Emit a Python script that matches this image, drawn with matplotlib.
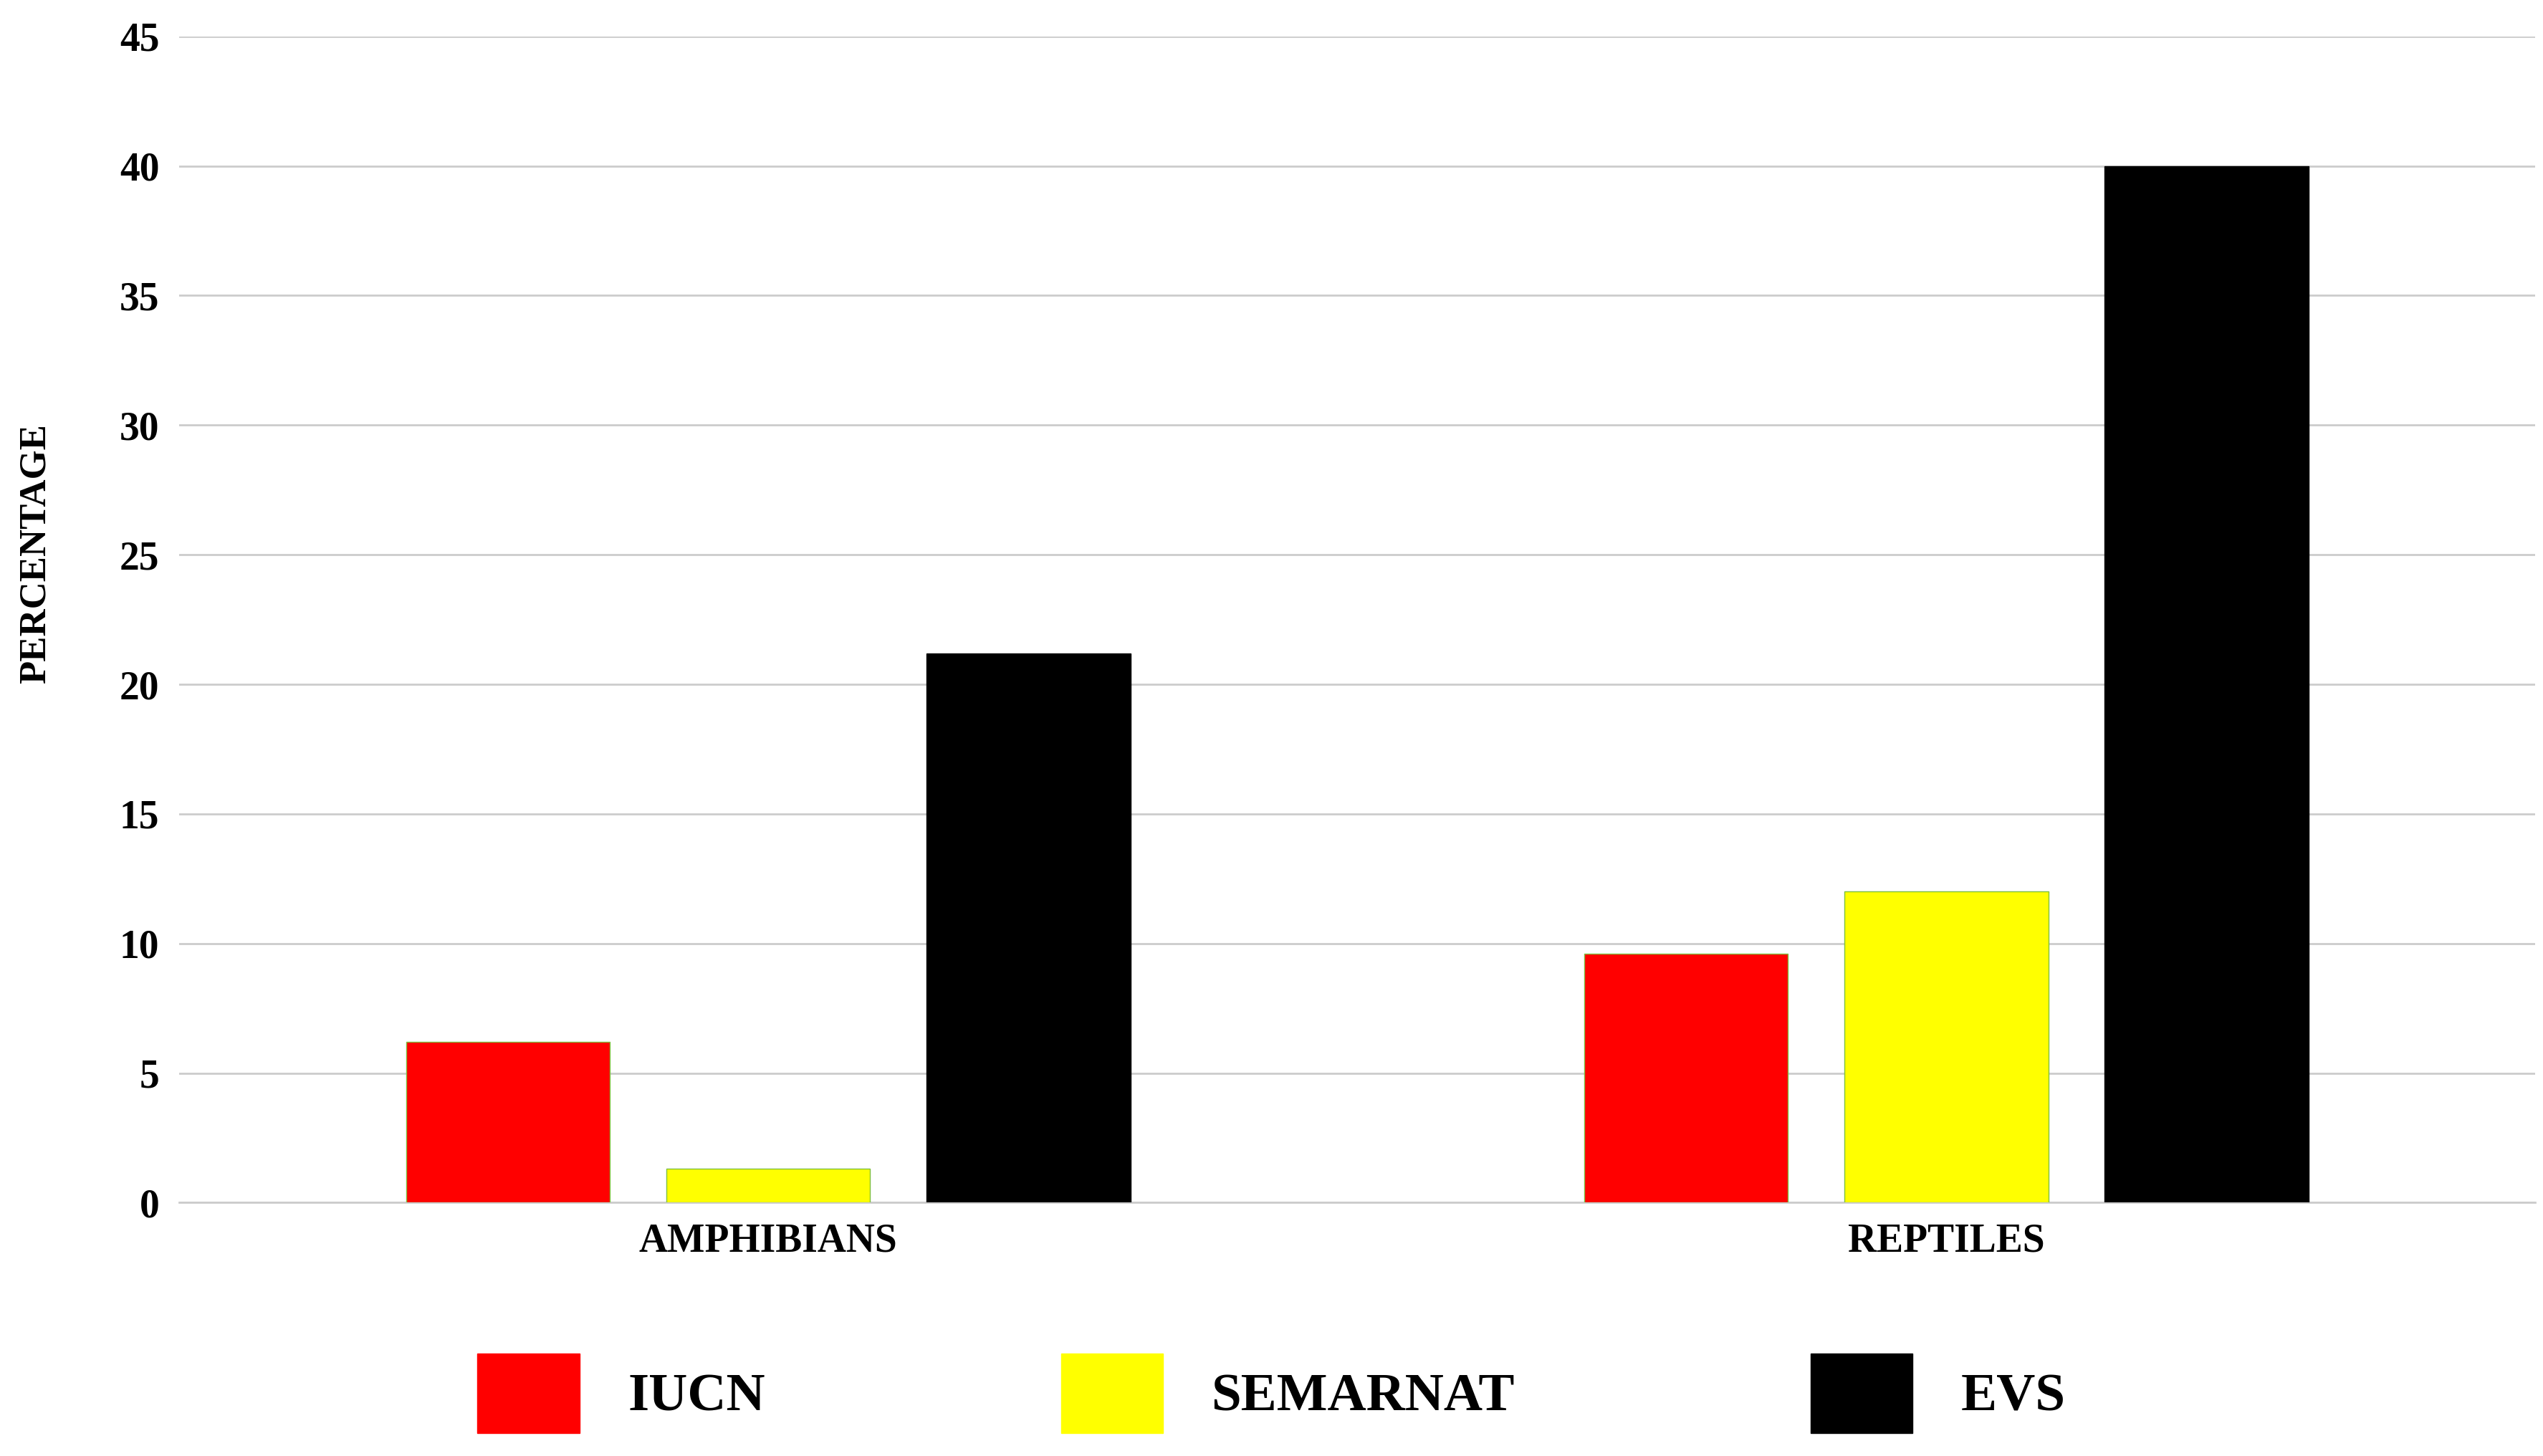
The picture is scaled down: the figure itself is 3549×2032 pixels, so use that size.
import matplotlib.pyplot as plt
import matplotlib.patches as mpatches
import numpy as np

groups = ['AMPHIBIANS', 'REPTILES']
series = ['IUCN', 'SEMARNAT', 'EVS']
iucn = [6.2, 9.6]
semarnat = [1.3, 12.0]
evs = [21.2, 40.0]
colors = ['#ff0000', '#ffff00', '#000000']

plt.rcParams['font.family'] = ['Liberation Serif', 'DejaVu Serif']
plt.rcParams['font.weight'] = 'bold'

fig = plt.figure(figsize=(35.49, 20.32), dpi=100)
ax = fig.add_axes([0.0705, 0.174, 0.9265, 0.801])

x = np.arange(len(groups))
w = 0.173
step = 0.221
for i, (vals, c) in enumerate(zip([iucn, semarnat, evs], colors)):
    ax.bar(x + (i - 1) * step, vals, w, color=c, edgecolor='#7fbf3f' if c != '#000000' else '#000000', linewidth=1, zorder=3)

ax.set_xlim(-0.5, 1.5)
ax.set_ylim(0, 45)
ax.set_yticks(range(0, 46, 5))
ax.set_xticks(x)
ax.set_xticklabels(groups)
ax.grid(axis='y', color='#cccccc', linewidth=2, zorder=0)
for s in ['top', 'right', 'left']:
    ax.spines[s].set_visible(False)
ax.spines['bottom'].set_color('#cccccc')
ax.spines['bottom'].set_linewidth(2)
ax.tick_params(axis='both', length=0, labelsize=40, pad=20)
for t in ax.get_xticklabels() + ax.get_yticklabels():
    t.set_fontweight('bold')
fig.text(0.014, 0.62, 'PERCENTAGE', rotation=90, fontsize=38, fontweight='bold', va='center', ha='center')

handles = [mpatches.Patch(color=c, label=s) for c, s in zip(colors, series)]
fig.legend(handles=handles, loc='center', bbox_to_anchor=(0.5, 0.043), ncol=3, frameon=False,
           fontsize=54, handlelength=1.9, handleheight=1.9, handletextpad=0.9, columnspacing=5.5,
           prop={'weight': 'bold', 'size': 54})

fig.savefig('out.png', dpi=100)
